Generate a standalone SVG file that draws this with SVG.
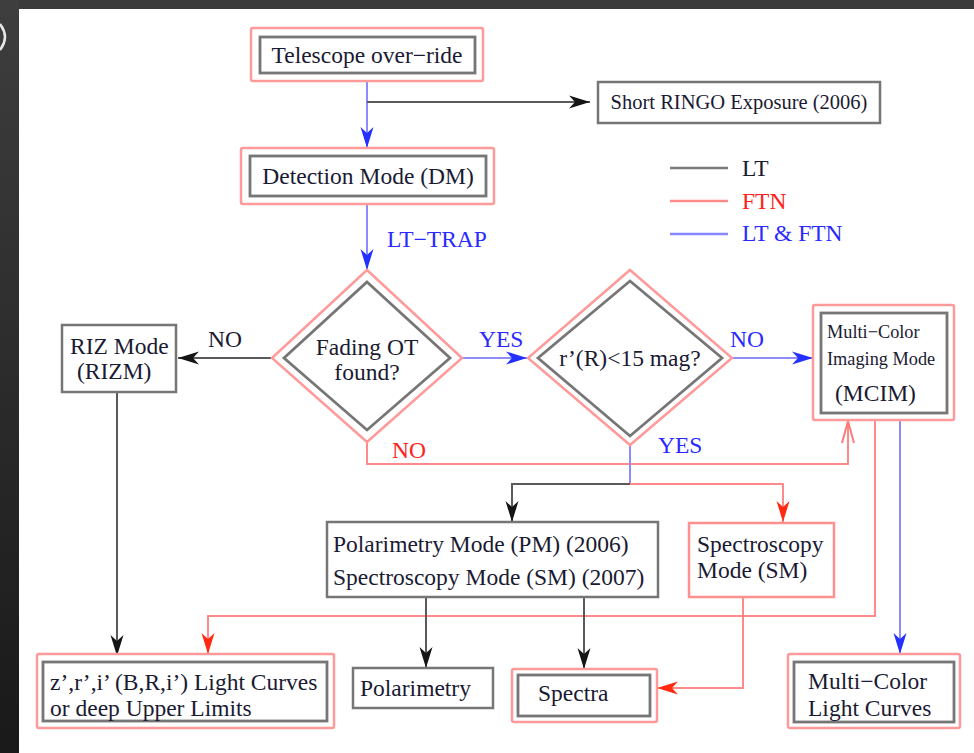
<svg xmlns="http://www.w3.org/2000/svg" width="974" height="753" viewBox="0 0 974 753">
<defs>
<linearGradient id="side" x1="0" y1="0" x2="0" y2="1">
<stop offset="0" stop-color="#3e3e3e"/>
<stop offset="1" stop-color="#191919"/>
</linearGradient>
<marker id="ak" markerUnits="userSpaceOnUse" viewBox="-22 -8 24 16" markerWidth="24" markerHeight="16" refX="0" refY="0" orient="auto">
<path d="M0,0 L-21,-6.5 L-15,0 L-21,6.5 Z" fill="#151515"/>
</marker>
<marker id="ab" markerUnits="userSpaceOnUse" viewBox="-22 -8 24 16" markerWidth="24" markerHeight="16" refX="0" refY="0" orient="auto">
<path d="M0,0 L-21,-6.5 L-15,0 L-21,6.5 Z" fill="#2430ff"/>
</marker>
<marker id="ar" markerUnits="userSpaceOnUse" viewBox="-22 -8 24 16" markerWidth="24" markerHeight="16" refX="0" refY="0" orient="auto">
<path d="M0,0 L-21,-6.5 L-15,0 L-21,6.5 Z" fill="#ff2a10"/>
</marker>
<marker id="aro" markerUnits="userSpaceOnUse" viewBox="-24 -9 26 18" markerWidth="26" markerHeight="18" refX="0" refY="0" orient="auto">
<path d="M-22,-6 L0,0 L-22,6" fill="none" stroke="#ff7a7a" stroke-width="2"/>
</marker>
</defs>
<style>
.t{font-family:"Liberation Serif","Times New Roman",serif;font-size:23.5px;fill:#1a1a33}
.s{font-size:18.3px}
.m{text-anchor:middle}
.red{fill:#ff2020}
.blue{fill:#2a2aff}
.outer{fill:#fff;stroke:#ff9a9a;stroke-width:2.5}
.inner{fill:#fff;stroke:#767676;stroke-width:2.8}
.box{fill:#fff;stroke:#767676;stroke-width:2.5}
.rbox{fill:#fff;stroke:#ff9090;stroke-width:2.5}
.ck{fill:none;stroke:#5a5a5a;stroke-width:2}
.cr{fill:none;stroke:#ff8a8a;stroke-width:2}
.cb{fill:none;stroke:#8c8cff;stroke-width:2}
</style>
<rect x="0" y="0" width="974" height="753" fill="#3a3a3a"/>
<rect x="0" y="0" width="19" height="753" fill="url(#side)"/>
<rect x="19" y="9" width="955" height="744" fill="#fff"/>
<path d="M0,24 Q10,37 0,50" fill="none" stroke="#e8e8e8" stroke-width="2.5"/>

<g id="connectors">
<path class="cb" d="M367,81 V148" marker-end="url(#ab)"/>
<path class="ck" d="M367,102 H590" marker-end="url(#ak)"/>
<path class="cb" d="M367,204 V270" marker-end="url(#ab)"/>
<path class="ck" d="M272,358 H178" marker-end="url(#ak)"/>
<path class="cb" d="M462,358 H527" marker-end="url(#ab)"/>
<path class="cb" d="M732,358 H813" marker-end="url(#ab)"/>
<path class="cr" d="M367,442 V464 H848 V421" marker-end="url(#aro)"/>
<path class="cb" d="M630,445 V484"/>
<path class="ck" d="M630,484 H512 V522" marker-end="url(#ak)"/>
<path class="cr" d="M630,484 H783 V522" marker-end="url(#ar)"/>
<path class="ck" d="M117,392 V656" marker-end="url(#ak)"/>
<path class="cr" d="M875,421 V616 H208 V654" marker-end="url(#ar)"/>
<path class="ck" d="M426,597 V668" marker-end="url(#ak)"/>
<path class="ck" d="M584,597 V669" marker-end="url(#ak)"/>
<path class="cr" d="M743,597 V688 H657" marker-end="url(#ar)"/>
<path class="cb" d="M900,421 V654" marker-end="url(#ab)"/>
</g>

<g id="labels">
<text class="t blue" x="387" y="247">LT−TRAP</text>
<text class="t" x="208" y="347">NO</text>
<text class="t blue" x="479" y="347">YES</text>
<text class="t blue" x="730" y="347">NO</text>
<text class="t red" x="392" y="458">NO</text>
<text class="t blue" x="658" y="453">YES</text>
</g>

<g id="legend">
<line x1="670" y1="168" x2="728" y2="168" stroke="#7a7a7a" stroke-width="2.5"/>
<line x1="670" y1="201" x2="728" y2="201" stroke="#ff8a8a" stroke-width="2.5"/>
<line x1="670" y1="234" x2="728" y2="234" stroke="#8888ff" stroke-width="2.5"/>
<text class="t" x="742" y="176">LT</text>
<text class="t red" x="742" y="209">FTN</text>
<text class="t blue" x="742" y="241">LT &amp; FTN</text>
</g>

<g id="telescope">
<rect class="outer" x="251" y="28" width="232" height="53" rx="2"/>
<rect class="inner" x="260" y="37" width="215" height="36"/>
<text class="t m" x="367" y="63">Telescope over−ride</text>
</g>

<g id="ringo">
<rect class="box" x="598" y="82" width="282" height="41"/>
<text class="t m" x="739" y="109" style="font-size:20.5px">Short RINGO Exposure (2006)</text>
</g>

<g id="detection">
<rect class="outer" x="241" y="148" width="253" height="56" rx="2"/>
<rect class="inner" x="250" y="156" width="236" height="40"/>
<text class="t m" x="368" y="184">Detection Mode (DM)</text>
</g>

<g id="fading">
<path class="outer" d="M367,270 L462,358 L367,442 L272,358 Z"/>
<path class="inner" d="M367,282 L450,358 L367,430 L284,358 Z"/>
<text class="t m" x="367" y="355">Fading OT</text>
<text class="t m" x="367" y="380">found?</text>
</g>

<g id="mag">
<path class="outer" d="M630,270 L732,358 L630,445 L528,358 Z"/>
<path class="inner" d="M630,281 L722,358 L630,436 L538,358 Z"/>
<text class="t m" x="630" y="366">r’(R)&lt;15 mag?</text>
</g>

<g id="rizm">
<rect class="box" x="62" y="325" width="114" height="67"/>
<text class="t" x="70" y="354">RIZ Mode</text>
<text class="t" x="77" y="379">(RIZM)</text>
</g>

<g id="mcim">
<rect class="outer" x="813" y="305" width="141" height="115" rx="2"/>
<rect class="inner" x="821" y="313" width="126" height="100"/>
<text class="t s" x="827" y="338">Multi−Color</text>
<text class="t s" x="827" y="365">Imaging Mode</text>
<text class="t" x="835" y="401">(MCIM)</text>
</g>

<g id="pm-sm">
<rect class="box" x="327" y="522" width="331" height="75"/>
<text class="t" x="333" y="552">Polarimetry Mode (PM) (2006)</text>
<text class="t" x="333" y="585">Spectroscopy Mode (SM) (2007)</text>
</g>

<g id="sm">
<rect class="rbox" x="689" y="523" width="145" height="74"/>
<text class="t" x="697" y="552">Spectroscopy</text>
<text class="t" x="697" y="578">Mode (SM)</text>
</g>

<g id="lightcurves">
<rect class="outer" x="37" y="654" width="297" height="74" rx="2"/>
<rect class="inner" x="43" y="662" width="284" height="59"/>
<text class="t" x="50" y="690">z’,r’,i’ (B,R,i’) Light Curves</text>
<text class="t" x="50" y="716">or deep Upper Limits</text>
</g>

<g id="polarimetry">
<rect class="box" x="353" y="668" width="140" height="40"/>
<text class="t" x="360" y="696">Polarimetry</text>
</g>

<g id="spectra">
<rect class="outer" x="512" y="669" width="145" height="53" rx="2"/>
<rect class="inner" x="518" y="675" width="132" height="41"/>
<text class="t" x="538" y="701">Spectra</text>
</g>

<g id="mclc">
<rect class="outer" x="788" y="654" width="172" height="74" rx="2"/>
<rect class="inner" x="794" y="662" width="160" height="60"/>
<text class="t" x="808" y="689">Multi−Color</text>
<text class="t" x="808" y="716">Light Curves</text>
</g>
</svg>
